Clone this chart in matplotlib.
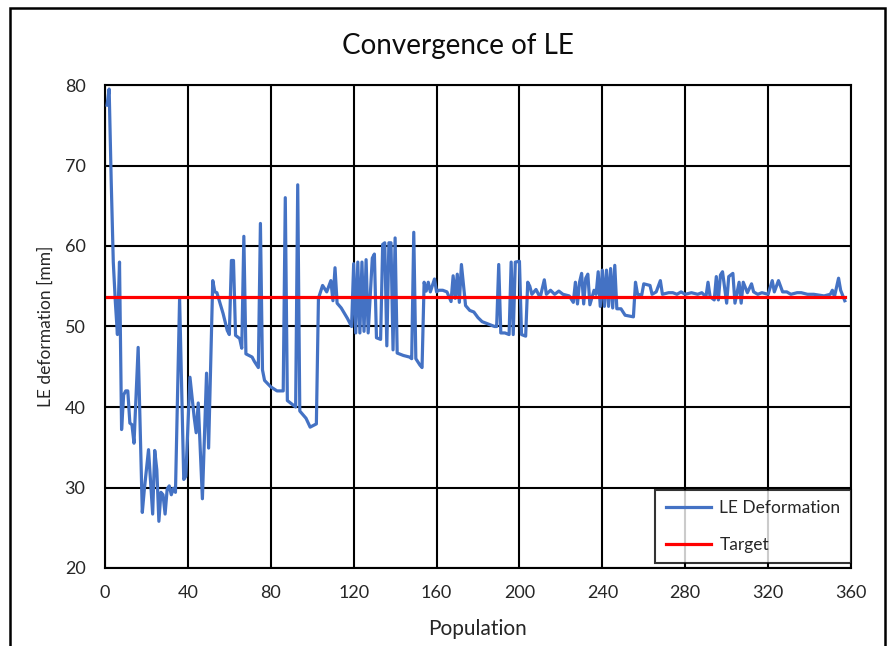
import matplotlib
matplotlib.use("Agg")
import matplotlib.pyplot as plt
from matplotlib.patches import Rectangle

plt.rcParams['font.family'] = ['Lato', 'DejaVu Sans']

# LE deformation vertices (population index, mm)
pop = [1, 2, 3, 4, 5, 6, 7, 8, 9, 10, 11, 12, 13, 14, 16, 18, 19, 21, 23, 24,
       25, 26, 27, 28, 29, 30, 31, 32, 33, 34, 36, 38, 39, 41, 43, 44, 45, 47, 49, 50,
       52, 53, 54, 57, 59, 60, 61, 62, 63, 65, 66, 67, 68, 71, 72, 74, 75, 76, 77, 80,
       83, 86, 87, 88, 90, 92, 93, 94, 97, 99, 102, 103, 105, 107, 109, 110, 111, 112, 114, 117,
       119, 120, 121, 122, 123, 124, 125, 126, 127, 129, 130, 131, 133, 134, 135, 136, 137, 138, 139, 140,
       141, 144, 147, 148, 149, 150, 152, 153, 154, 155, 156, 157, 159, 160, 161, 163, 165, 167, 168, 169,
       170, 171, 172, 174, 176, 178, 180, 182, 184, 186, 188, 189, 190, 191, 193, 194, 195, 196, 197, 198,
       200, 201, 203, 204, 205, 206, 208, 210, 212, 213, 215, 217, 219, 221, 224, 226, 227, 228, 229, 230,
       231, 232, 233, 234, 236, 237, 238, 239, 240, 241, 242, 243, 244, 245, 246, 247, 249, 251, 255, 256,
       257, 259, 260, 263, 264, 266, 268, 269, 272, 274, 276, 278, 280, 283, 286, 288, 290, 291, 292, 294,
       295, 296, 297, 298, 300, 301, 303, 304, 306, 307, 308, 310, 312, 313, 315, 317, 320, 322, 323, 325,
       327, 329, 331, 334, 336, 339, 342, 347, 350, 351, 352, 354, 355, 357]
le_def = [77.5, 79.5, 68.0, 58.0, 53.0, 49.0, 58.0, 37.2, 41.5, 42.0, 42.0, 38.0, 37.8, 35.5, 47.4, 26.9, 29.8, 34.7, 26.7, 34.6,
          32.2, 25.8, 29.4, 29.1, 26.7, 29.8, 30.2, 29.1, 29.9, 29.4, 53.5, 31.0, 31.4, 43.7, 38.8, 36.8, 40.5, 28.6, 44.2, 34.9,
          55.7, 54.3, 54.2, 51.6, 49.5, 49.0, 58.2, 58.2, 48.9, 48.5, 47.3, 61.2, 46.6, 46.2, 45.7, 44.9, 62.8, 44.6, 43.3, 42.5,
          42.0, 42.0, 66.0, 40.8, 40.4, 40.0, 67.6, 39.5, 38.6, 37.5, 37.9, 53.5, 55.1, 54.3, 55.7, 53.2, 57.3, 52.9, 52.3, 51.0,
          50.0, 57.8, 49.2, 58.0, 49.2, 58.0, 49.4, 58.3, 49.2, 58.5, 59.0, 48.6, 48.4, 60.2, 60.4, 47.6, 60.4, 60.4, 47.1, 61.0,
          46.7, 46.4, 46.2, 46.0, 61.7, 46.0, 45.2, 44.9, 55.5, 54.4, 55.5, 54.3, 55.9, 54.3, 54.5, 54.5, 54.3, 53.1, 56.3, 53.5,
          56.5, 53.0, 57.7, 52.6, 52.0, 51.8, 51.1, 50.6, 50.4, 50.2, 50.0, 50.0, 57.7, 49.2, 49.2, 49.1, 49.0, 58.0, 49.0, 58.0,
          58.1, 49.0, 48.8, 55.5, 55.0, 54.0, 54.6, 53.6, 55.8, 54.0, 54.5, 54.0, 54.4, 54.0, 53.8, 53.0, 55.5, 52.8, 55.5, 56.6,
          52.8, 56.0, 56.5, 52.7, 54.5, 54.0, 56.8, 52.5, 57.0, 52.5, 57.0, 52.5, 57.2, 52.3, 57.6, 52.2, 52.2, 51.4, 51.2, 55.5,
          54.0, 53.9, 55.3, 55.1, 54.0, 54.3, 55.7, 54.0, 54.2, 54.2, 54.0, 54.3, 54.0, 54.2, 54.0, 54.2, 53.7, 55.5, 53.7, 53.3,
          56.2, 53.3, 56.4, 56.8, 52.9, 56.2, 56.6, 52.9, 55.5, 52.9, 55.5, 54.2, 55.3, 54.3, 54.0, 54.2, 54.0, 55.7, 54.3, 55.7,
          54.3, 54.3, 54.0, 54.2, 54.2, 54.0, 54.0, 53.8, 54.0, 54.5, 53.7, 56.0, 54.5, 53.2]

target_x = [1, 357]
target_y = [53.7, 53.7]

title = "Convergence of LE"
xlabel = "Population"
ylabel = "LE deformation [mm]"
xticks = [0, 40, 80, 120, 160, 200, 240, 280, 320, 360]
yticks = [20, 30, 40, 50, 60, 70, 80]

W, H = 893, 646
fig = plt.figure(figsize=(W / 100, H / 100), dpi=100)
fig.patch.set_facecolor('white')

# chart-area border
fig.patches.append(Rectangle((10 / W, -0.05), (885 - 10) / W, 1.05 - 8 / H,
                             transform=fig.transFigure, fill=False,
                             edgecolor='black', linewidth=1.8))

ax = fig.add_axes([105 / W, (H - 568) / H, (851 - 105) / W, (568 - 85) / H])
ax.plot(pop, le_def, color='#4472C4', linewidth=2.3, label='LE Deformation', zorder=3)
ax.plot(target_x, target_y, color='#FF0000', linewidth=2.3, label='Target', zorder=4)

ax.set_xlim(0, 360)
ax.set_ylim(20, 80)
ax.set_xticks(xticks)
ax.set_yticks(yticks)
ax.grid(True, color='black', linewidth=1.5, zorder=1)
ax.set_axisbelow(True)
for s in ax.spines.values():
    s.set_color('black')
    s.set_linewidth(1.5)
ax.tick_params(length=0, labelsize=13, colors='#262626', pad=12)
ax.tick_params(axis='y', pad=14)

fig.text(458 / W, 1 - 46 / H, title, fontsize=20, color='#0d0d0d',
         ha='center', va='center')
ax.set_xlabel(xlabel, fontsize=15, color='#262626', labelpad=13)
ax.set_ylabel(ylabel, fontsize=12.5, color='#262626', labelpad=8)

leg = ax.legend(loc='lower right', bbox_to_anchor=(1.0, 0.01), borderaxespad=0,
                fontsize=12.5, frameon=True, fancybox=False, handlelength=2.6,
                labelspacing=1.2, borderpad=0.6, handletextpad=0.5)
leg.get_frame().set_edgecolor('black')
leg.get_frame().set_linewidth(1.5)
for t in leg.get_texts():
    t.set_color('#262626')

fig.savefig('out.png', dpi=100)
